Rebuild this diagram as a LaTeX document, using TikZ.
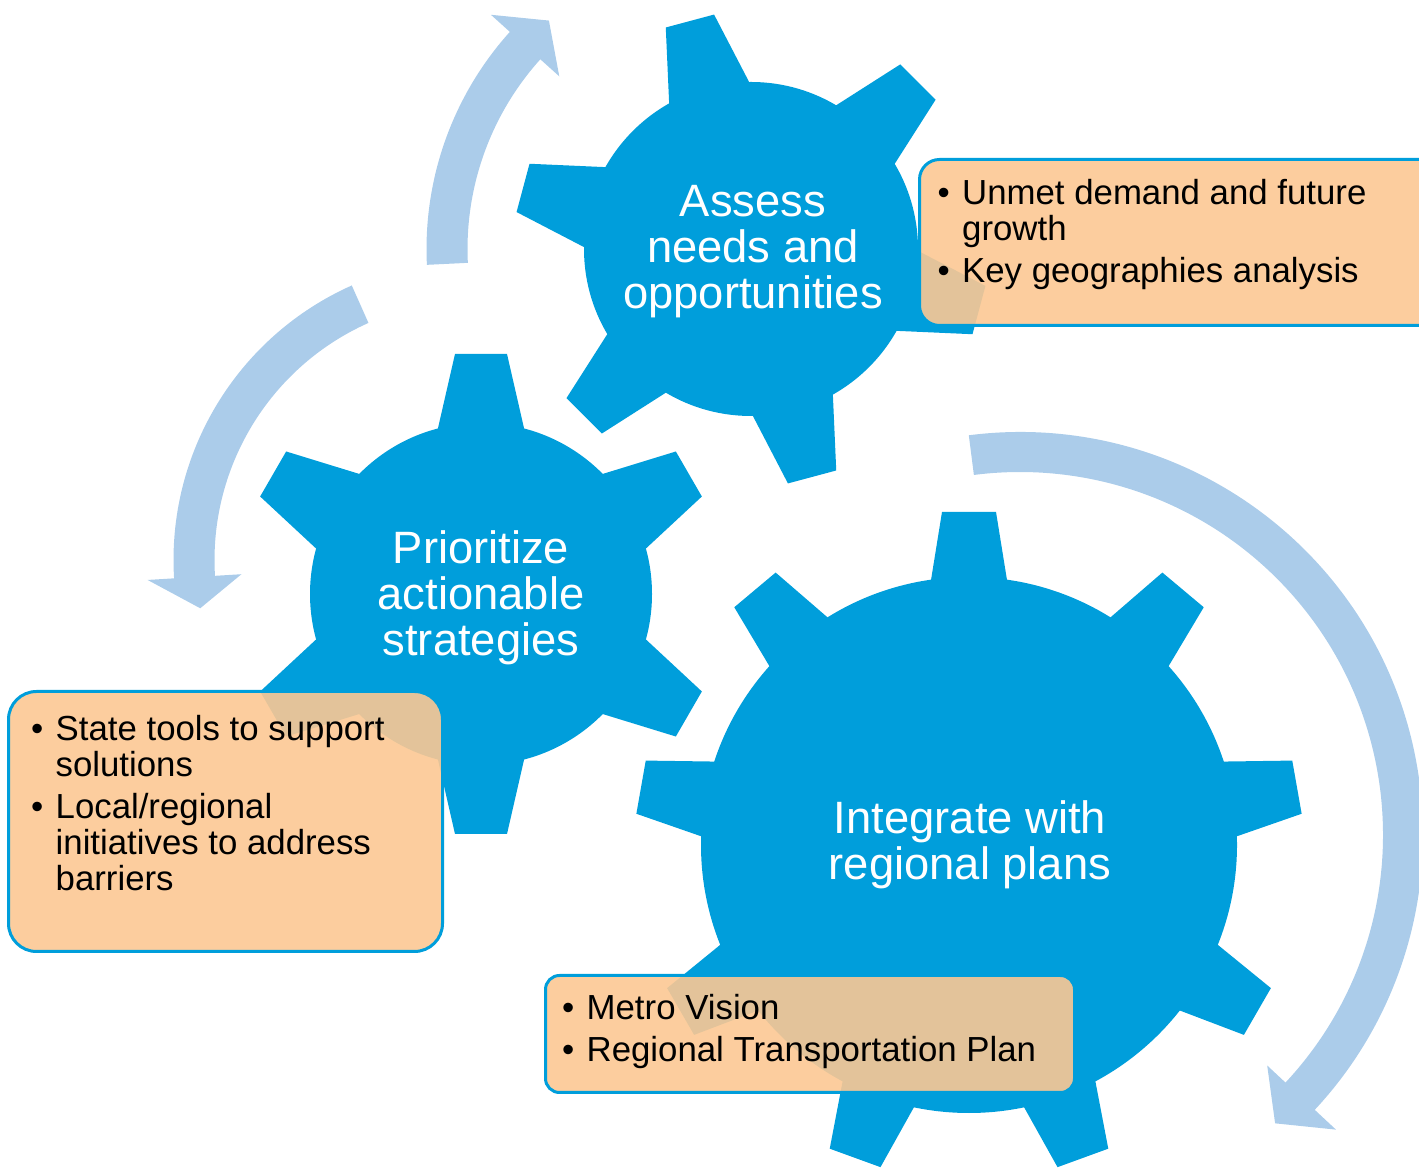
\documentclass[tikz,border=0pt]{standalone}
\usepackage{fontspec}
\setmainfont{Liberation Sans}
\definecolor{gearblue}{RGB}{0,158,219}
\definecolor{arrowblue}{RGB}{171,204,234}
\definecolor{notefill}{RGB}{252,200,147}
\tikzset{
  gearfill/.style={fill=gearblue},
  cyclearrow/.style={fill=arrowblue},
  notebox/.style={draw=gearblue, line width=0.3mm, fill=notefill, fill opacity=0.9, inner sep=0pt, anchor=north west},
  gearlabel/.style={text=white, align=center, inner sep=0pt, font=\fontsize{12.9pt}{13.1pt}\selectfont},
  notetext/.style={text=black, inner sep=0pt, anchor=base west, font=\fontsize{9.9pt}{10.1pt}\selectfont}
}

\begin{document}
\begin{tikzpicture}[x=0.1mm, y=0.1mm]
        \useasboundingbox (0,0) rectangle (1419,1168);
        \clip (0,0) rectangle (1419,1168);

        % gears
        \fill[gearfill] (751,919) circle[radius=167];
        \foreach \a in {45,105,...,345}
            \fill[gearfill, shift={(751,919)}, rotate=\a] (150,-44) -- (236,-25) -- (236,25) -- (150,44) -- cycle;
        \fill[gearfill] (481,574) circle[radius=171];
        \foreach \a in {30,90,...,330}
            \fill[gearfill, shift={(481,574)}, rotate=\a] (155,-45.5) -- (240,-26) -- (240,26) -- (155,45.5) -- cycle;
        \fill[gearfill] (969,323) circle[radius=268];
        \foreach \a in {10,50,...,330}
            \fill[gearfill, shift={(969,323)}, rotate=\a] (255,-39.6) -- (333,-27) -- (333,27) -- (255,39.6) -- cycle;

        \node [gearlabel] (assess) at (753,916) {Assess\\needs and\\opportunities};
        \node [gearlabel] (prioritize) at (481,570) {Prioritize\\actionable\\strategies};
        \node [gearlabel] (integrate) at (970,323) {Integrate with\\regional plans};

        % cycle arrows
        \fill[cyclearrow, shift={(751,919)}] (182.8:324.5) arc[start angle=182.8, end angle=138, radius=324.5]
            -- (138:350) -- (131.5:305) -- (138:258) -- (138:283.5)
            arc[start angle=138, end angle=182.8, radius=283.5] -- cycle;
        \fill[cyclearrow, shift={(474,608)}] (114:300.5) arc[start angle=114, end angle=183.5, radius=300.5]
            -- (183.5:327) -- (190:278) -- (183.5:233) -- (183.5:259.5)
            arc[start angle=183.5, end angle=114, radius=259.5] -- cycle;
        \fill[cyclearrow, shift={(1020,333)}] (97.3:403) arc[start angle=97.3, end angle=-43, radius=403]
            -- (-43:432) -- (-48.5:385) -- (-43:338) -- (-43:363)
            arc[start angle=-43, end angle=97.3, radius=363] -- cycle;

        % notes
        \node [notebox, minimum width=54.2mm, minimum height=16.6mm, rounded corners=2mm] (needsbox) at (918,1010) {};
        \node [notetext] (needstext) at (937,963) {\begin{tabular}[t]{@{}l@{\hspace{3.5pt}}l@{}}
            \textbullet & Unmet demand and future\\
                        & growth\\[1.6pt]
            \textbullet & Key geographies analysis
        \end{tabular}};

        \node [notebox, minimum width=43.4mm, minimum height=26mm, rounded corners=2.8mm] (strategybox) at (7,478) {};
        \node [notetext] (strategytext) at (30.5,427) {\begin{tabular}[t]{@{}l@{\hspace{3.5pt}}l@{}}
            \textbullet & State tools to support\\
                        & solutions\\[1.6pt]
            \textbullet & Local/regional\\
                        & initiatives to address\\
                        & barriers
        \end{tabular}};

        \node [notebox, minimum width=52.9mm, minimum height=11.7mm, rounded corners=1.4mm] (plansbox) at (544,194) {};
        \node [notetext] (planstext) at (561.5,148) {\begin{tabular}[t]{@{}l@{\hspace{3.5pt}}l@{}}
            \textbullet & Metro Vision\\[1.6pt]
            \textbullet & Regional Transportation Plan
        \end{tabular}};
    \end{tikzpicture}
\end{document}
